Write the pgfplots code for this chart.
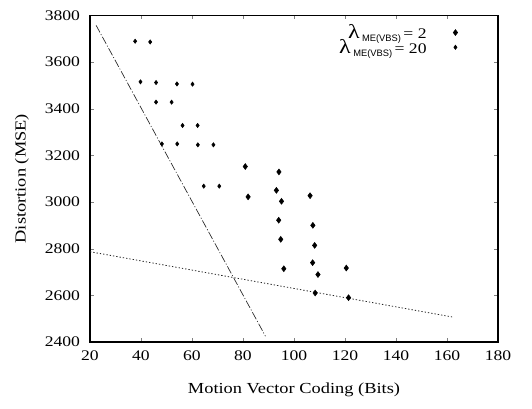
\documentclass[border=0pt]{standalone}
\usepackage{fontspec}
\setmainfont[FakeStretch=1.2]{Liberation Serif}
\setsansfont{Liberation Sans}
\usepackage{pgfplots}
\pgfplotsset{compat=1.18}
\newcommand{\lam}{{\fontsize{15}{15}\selectfont λ}\,\raisebox{-2.5pt}{\sffamily\fontsize{7}{8}\selectfont ME(VBS)}\,}
\begin{document}
\begin{tikzpicture}
\useasboundingbox (-67.5pt,-49.5pt) rectangle (331.5pt,256.5pt);
\begin{axis}[
  scale only axis,
  width=306pt, height=245pt,
  xmin=20, xmax=180, ymin=2400, ymax=3800,
  xtick={20,40,...,180}, ytick={2400,2600,...,3800},
  tick align=inside,
  major tick length=3pt,
  axis line style={line width=1.1pt},
  /pgf/number format/assume math mode=true,
  /pgf/number format/1000 sep={},
  tick label style={font=\fontsize{11}{12}\selectfont},
  yticklabel style={xshift=-4pt},
  xticklabel style={yshift=-3pt},
  xlabel={Motion Vector Coding (Bits)},
  ylabel={Distortion (MSE)},
  label style={font=\fontsize{11.5}{13}\selectfont},
  xlabel style={at={(rel axis cs:0.5,0)}, anchor=center, yshift=-36pt},
  ylabel style={at={(rel axis cs:0,0.5)}, anchor=center, yshift=51pt},
  legend plot pos=right,
  legend style={draw=none, fill=none, at={(rel axis cs:0.905,0.985)}, anchor=north east,
    font=\fontsize{11}{12}\selectfont, row sep=-5pt, inner sep=1pt},
  legend cell align=right,
]
\addplot[only marks, mark=diamond*, mark size=2.2pt, black] coordinates {
(80.9,3152) (94.1,3129) (93.1,3050) (82.0,3022) (106.3,3027) (95.1,3003)
(94.0,2922) (107.4,2900) (94.8,2840) (108.1,2814) (107.3,2740) (96.0,2714)
(120.5,2717) (109.4,2689) (108.3,2610) (121.4,2590)
};
\addlegendentry{\lam= 2\hspace*{18pt}}
\addplot[only marks, mark=diamond*, mark size=1.6pt, black] coordinates {
(37.7,3689) (43.6,3686) (39.8,3515) (45.9,3512) (54.1,3506) (60.2,3505)
(45.9,3428) (52.0,3428) (56.3,3328) (62.2,3328) (48.2,3249) (54.2,3249)
(62.3,3245) (68.4,3245) (64.6,3068) (70.7,3068)
};
\addlegendentry{\lam= 20\hspace*{18pt}}
\addplot[black!85, line width=0.5pt, dash pattern=on 6pt off 1.5pt on 0.8pt off 1.5pt] coordinates {(22.4,3757) (88.8,2425)};
\addplot[black!85, line width=0.6pt, dash pattern=on 1pt off 1.5pt] coordinates {(20,2787) (162.2,2507)};
\end{axis}
\end{tikzpicture}
\end{document}
